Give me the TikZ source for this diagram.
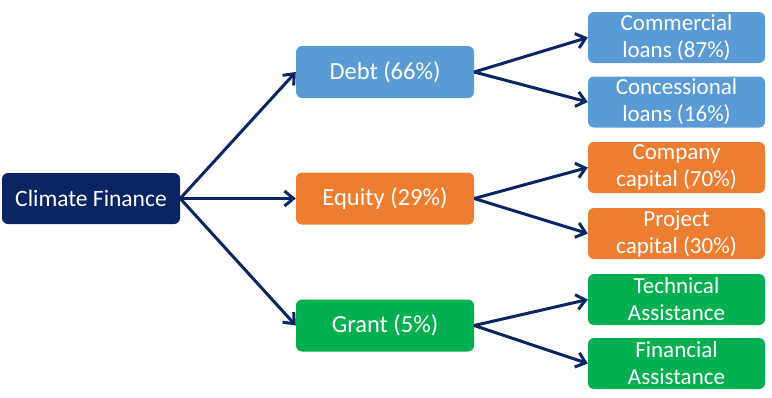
\documentclass[tikz,border=0pt]{standalone}
\usepackage{fontspec}
\setmainfont{Carlito}
\usetikzlibrary{arrows.meta}
\definecolor{navy}{HTML}{0B2463}
\definecolor{debtblue}{HTML}{5B9BD5}
\definecolor{eqorange}{HTML}{ED7D31}
\definecolor{grantgreen}{HTML}{00B050}

\begin{document}
\begin{tikzpicture}[x=1pt, y=-1pt,
    root/.style={rounded corners=6pt, minimum width=178pt, minimum height=51pt, align=center, text=white, fill=navy, font=\fontsize{23.5}{27}\selectfont},
    mid/.style={rounded corners=6pt, minimum width=178pt, minimum height=52pt, align=center, text=white, font=\fontsize{24.5}{27}\selectfont},
    leaf/.style={rounded corners=6pt, minimum width=177pt, minimum height=51pt, inner sep=0pt, align=center, text=white, font=\fontsize{23}{27}\selectfont},
    arr/.style={-{Straight Barb[length=9pt, width=15pt]}, line width=3pt, draw=navy}
]
\useasboundingbox (0,0) rectangle (772,397);
\node[root] (cf) at (91,198.5) {Climate Finance};
\node[mid, fill=debtblue] (debt) at (385,72) {Debt (66\%)};
\node[mid, fill=eqorange] (equity) at (385,198.5) {Equity (29\%)};
\node[mid, fill=grantgreen] (grant) at (385,325.5) {Grant (5\%)};
\node[leaf, fill=debtblue] (comm) at (676.5,37.5) {Commercial\\loans (87\%)};
\node[leaf, fill=debtblue] (conc) at (676.5,102) {Concessional\\loans (16\%)};
\node[leaf, fill=eqorange] (comp) at (676.5,167.5) {Company\\capital (70\%)};
\node[leaf, fill=eqorange] (proj) at (676.5,233.5) {Project\\capital (30\%)};
\node[leaf, fill=grantgreen] (tech) at (676.5,299.5) {Technical\\Assistance};
\node[leaf, fill=grantgreen] (fin) at (676.5,363.5) {Financial\\Assistance};

\draw[arr] (cf.east) -- (debt.west);
\draw[arr] (cf.east) -- (equity.west);
\draw[arr] (cf.east) -- (grant.west);
\draw[arr] (debt.east) -- (comm.west);
\draw[arr] (debt.east) -- (conc.west);
\draw[arr] (equity.east) -- (comp.west);
\draw[arr] (equity.east) -- (proj.west);
\draw[arr] (grant.east) -- (tech.west);
\draw[arr] (grant.east) -- (fin.west);
\end{tikzpicture}
\end{document}
